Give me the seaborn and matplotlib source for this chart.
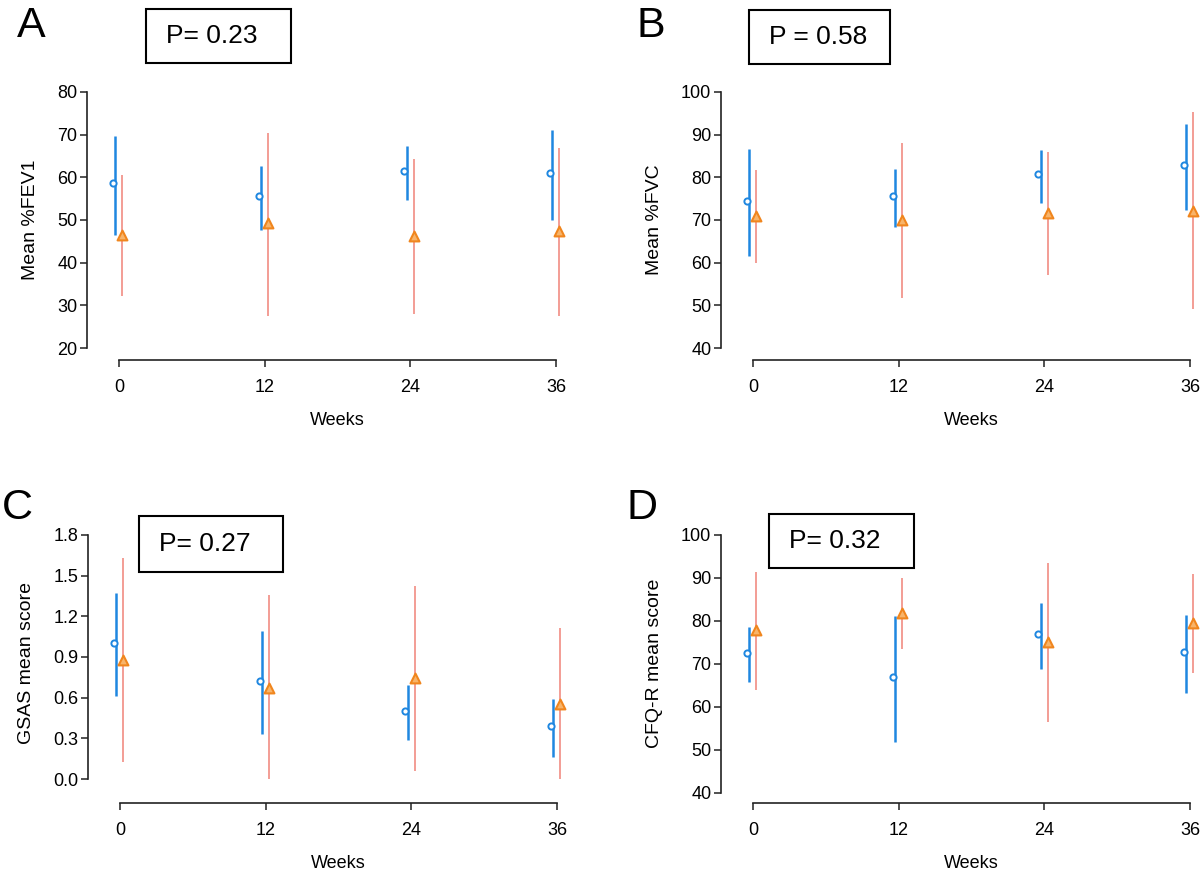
import numpy as np
import pandas as pd
import matplotlib
matplotlib.use("Agg")
import matplotlib.pyplot as plt
import seaborn as sns

sns.set_style("white")
plt.rcParams['font.family'] = ['Liberation Sans', 'DejaVu Sans']
plt.rcParams['text.color'] = 'black'

# ---------------- data ----------------
weeks = [0, 12, 24, 36]

# Panel A: Mean %FEV1
a_blue_mean = [58.6, 55.6, 61.5, 60.9]
a_blue_low = [46.5, 47.7, 54.8, 49.9]
a_blue_high = [69.8, 62.7, 67.3, 71.1]
a_orange_mean = [46.5, 49.2, 46.2, 47.5]
a_orange_low = [32.3, 27.6, 27.9, 27.6]
a_orange_high = [60.5, 70.3, 64.4, 66.9]

# Panel B: Mean %FVC
b_blue_mean = [74.5, 75.6, 80.7, 82.9]
b_blue_low = [61.5, 68.4, 74.1, 72.4]
b_blue_high = [86.6, 81.9, 86.5, 92.5]
b_orange_mean = [71.0, 70.0, 71.7, 72.2]
b_orange_low = [59.9, 51.8, 57.1, 49.1]
b_orange_high = [81.7, 88.1, 86.0, 95.2]

# Panel C: GSAS mean score
c_blue_mean = [1.003, 0.723, 0.504, 0.393]
c_blue_low = [0.615, 0.332, 0.290, 0.160]
c_blue_high = [1.372, 1.094, 0.696, 0.590]
c_orange_mean = [0.880, 0.671, 0.743, 0.556]
c_orange_low = [0.123, 0.0, 0.061, 0.0]
c_orange_high = [1.628, 1.357, 1.421, 1.111]

# Panel D: CFQ-R mean score
d_blue_mean = [72.6, 66.9, 77.0, 72.8]
d_blue_low = [65.8, 51.8, 68.9, 63.3]
d_blue_high = [78.6, 81.2, 84.3, 81.4]
d_orange_mean = [78.0, 81.9, 75.0, 79.5]
d_orange_low = [63.9, 73.4, 56.5, 67.8]
d_orange_high = [91.5, 90.0, 93.4, 90.9]

panel_letters = ["A", "B", "C", "D"]
y_labels = ["Mean %FEV1", "Mean %FVC", "GSAS mean score", "CFQ-R mean score"]
p_texts = ["P= 0.23", "P = 0.58", "P= 0.27", "P= 0.32"]
y_ticks = [
    [20, 30, 40, 50, 60, 70, 80],
    [40, 50, 60, 70, 80, 90, 100],
    [0.0, 0.3, 0.6, 0.9, 1.2, 1.5, 1.8],
    [40, 50, 60, 70, 80, 90, 100],
]
y_ticklabels = [
    ["20", "30", "40", "50", "60", "70", "80"],
    ["40", "50", "60", "70", "80", "90", "100"],
    ["0.0", "0.3", "0.6", "0.9", "1.2", "1.5", "1.8"],
    ["40", "50", "60", "70", "80", "90", "100"],
]

panels_data = [
    (a_blue_mean, a_blue_low, a_blue_high, a_orange_mean, a_orange_low, a_orange_high),
    (b_blue_mean, b_blue_low, b_blue_high, b_orange_mean, b_orange_low, b_orange_high),
    (c_blue_mean, c_blue_low, c_blue_high, c_orange_mean, c_orange_low, c_orange_high),
    (d_blue_mean, d_blue_low, d_blue_high, d_orange_mean, d_orange_low, d_orange_high),
]

# ---------------- layout (pixels) ----------------
W, H = 1200, 873
# (left, right, top, bottom) in pixels, and ylim
rects = [(87, 588, 80, 360), (721, 1222, 80, 360), (88, 589, 523, 803), (721, 1222, 523, 803)]
ylims = [(17.19, 82.81), (37.19, 102.81), (-0.177, 1.888), (37.67, 102.79)]
xlim = (-2.64, 38.64)
letter_pos = [(17, 37), (637, 37), (2, 519), (627, 519)]  # left, baseline (px)
box_pos = [(146, 9, 291, 63), (749, 10, 890, 64), (139, 516, 283, 572), (769, 514, 914, 568)]
text_pos = [(166, 36), (769, 37), (159, 544), (789, 541)]

blue = "#1F87E0"
salmon = "#F2958C"
orange_edge = "#F0861E"
orange_face = "#F8B46A"
blue_circle_dx = -0.5
blue_line_dx = -0.3
orange_dx = 0.28

fig = plt.figure(figsize=(W / 100, H / 100), dpi=100)

for i in range(4):
    l, r, t, b = rects[i]
    ax = fig.add_axes([l / W, 1 - b / H, (r - l) / W, (b - t) / H])
    ax.set_facecolor("none")
    bm, bl, bh, om, ol, oh = panels_data[i]
    wk = np.array(weeks, dtype=float)
    # error bars
    ax.vlines(wk + blue_line_dx, bl, bh, color=blue, lw=1.8, zorder=2)
    ax.vlines(wk + orange_dx, ol, oh, color=salmon, lw=1.3, zorder=2)
    df_b = pd.DataFrame({"week": wk + blue_circle_dx, "value": bm})
    df_o = pd.DataFrame({"week": wk + orange_dx, "value": om})
    sns.scatterplot(data=df_b, x="week", y="value", ax=ax, marker="o", s=20,
                    facecolor="white", edgecolor=blue, linewidth=1.4, zorder=3)
    sns.scatterplot(data=df_o, x="week", y="value", ax=ax, marker="^", s=50,
                    color=orange_face, edgecolor=orange_edge, linewidth=1.5, zorder=4)
    ax.set_xlim(*xlim)
    ax.set_ylim(*ylims[i])
    ax.set_xticks(weeks)
    ax.set_xticklabels([str(w) for w in weeks])
    ax.set_yticks(y_ticks[i])
    ax.set_yticklabels(y_ticklabels[i])
    for s in ["top", "right"]:
        ax.spines[s].set_visible(False)
    ax.spines["left"].set_bounds(y_ticks[i][0], y_ticks[i][-1])
    ax.spines["bottom"].set_bounds(weeks[0], weeks[-1])
    for s in ["left", "bottom"]:
        ax.spines[s].set_color("#222222")
        ax.spines[s].set_linewidth(1.2)
    ax.tick_params(axis="both", direction="out", length=5, width=1.1, color="#222222",
                   labelsize=13, labelcolor="black", left=True, bottom=True)
    ax.tick_params(axis="y", pad=2)
    ax.tick_params(axis="x", pad=9)
    ax.set_xlabel("Weeks", fontsize=13, labelpad=11, color="black")
    ax.set_ylabel(y_labels[i], fontsize=14, labelpad=13, color="black")
    # panel letter
    lx, ly = letter_pos[i]
    fig.text(lx / W, 1 - ly / H, panel_letters[i], fontsize=31, ha="left", va="baseline",
             color="black")
    # p-value box
    x0, y0, x1, y1 = box_pos[i]
    fig.patches.append(matplotlib.patches.Rectangle(
        (x0 / W, 1 - y1 / H), (x1 - x0) / W, (y1 - y0) / H, transform=fig.transFigure,
        fill=False, edgecolor="black", linewidth=1.5))
    tx, ty = text_pos[i]
    fig.text(tx / W, 1 - ty / H, p_texts[i], fontsize=19, ha="left", va="center",
             color="black")

fig.savefig("out.png", dpi=100)
